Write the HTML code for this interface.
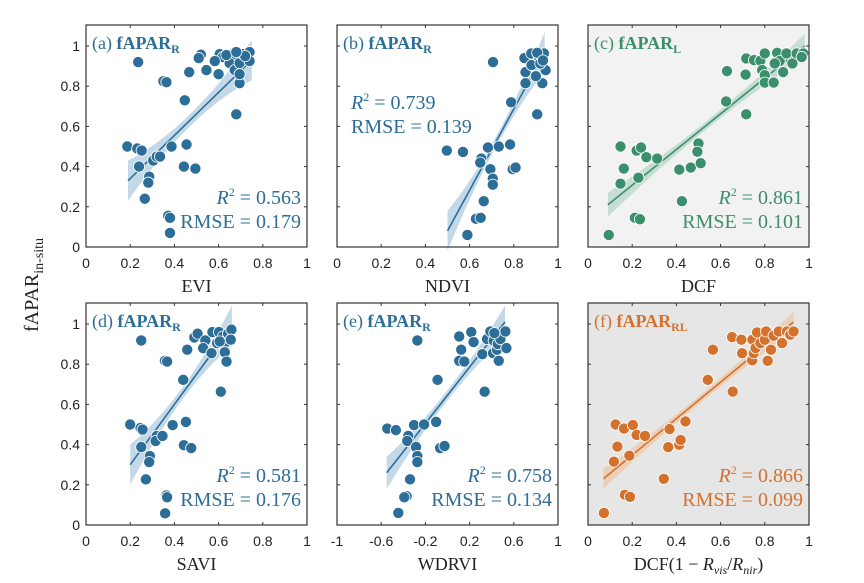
<!DOCTYPE html>
<html><head><meta charset="utf-8"><style>
body{margin:0;background:#fff;}
svg{display:block;}
.tk{font-family:"Liberation Sans",sans-serif;font-size:14px;fill:#222;}
.sf{font-family:"Liberation Serif","DejaVu Serif",serif;}
</style></head><body>
<svg id="chart" width="864" height="583" viewBox="0 0 864 583" xmlns="http://www.w3.org/2000/svg">
<text class="sf" x="0" y="0" font-size="20" fill="#222" transform="translate(38,285) rotate(-90)" text-anchor="middle">fAPAR<tspan font-size="14" dy="5">in-situ</tspan></text>
</svg>
<script>
const yA=[.92,.957,.94,.825,.82,.87,.88,.73,.66,.5,.49,.48,.5,.51,.4,.43,.45,.45,.4,.39,.35,.32,.24,.155,.145,.07,.96,.945,.925,.86,.96,.945,.915,.88,.915,.96,.97,.925,.815,.86,.95,.955,.97];
const xA=[.236,.52,.51,.35,.364,.467,.545,.447,.68,.187,.232,.252,.387,.455,.24,.304,.32,.335,.443,.495,.286,.282,.266,.372,.38,.38,.605,.62,.583,.6,.665,.68,.65,.673,.695,.71,.74,.74,.695,.695,.72,.635,.68];
const xB=[.706,.497,.57,.653,.648,.683,.732,.783,.694,.795,.808,.705,.705,.664,.629,.65,.59,.788,.906,.853,.853,.929,.9,.848,.879,.914,.936,.944,.88,.92,.906,.932];
const yB=[.92,.48,.473,.44,.42,.495,.5,.51,.387,.387,.395,.34,.31,.228,.14,.145,.06,.72,.66,.87,.815,.815,.85,.94,.963,.945,.963,.88,.905,.913,.966,.928];
const xC=[.094,.212,.235,.425,.147,.22,.24,.162,.147,.228,.264,.313,.413,.465,.5,.495,.51,.625,.716,.629,.716,.751,.713,.78,.8,.788,.8,.8,.84,.856,.867,.845,.883,.898,.925,.944,.974,.967];
const yC=[.06,.145,.138,.228,.5,.48,.495,.39,.315,.345,.447,.44,.385,.395,.515,.474,.417,.724,.66,.875,.938,.93,.858,.927,.963,.88,.855,.818,.818,.966,.925,.913,.87,.963,.913,.963,.963,.945];
const xD=[.25,.2,.247,.256,.25,.392,.452,.32,.315,.346,.289,.286,.271,.364,.367,.358,.443,.476,.44,.357,.367,.458,.61,.49,.505,.54,.53,.568,.572,.602,.62,.593,.628,.628,.636,.643,.658,.655,.605];
const yD=[.918,.5,.483,.475,.388,.497,.513,.443,.418,.443,.343,.313,.227,.147,.138,.058,.397,.383,.722,.817,.813,.872,.663,.933,.952,.918,.88,.855,.96,.96,.938,.905,.905,.86,.813,.952,.972,.922,.913];
const xE=[-.545,-.467,-.303,-.212,-.103,-.355,-.364,-.285,-.273,-.273,-.339,-.37,-.391,-.445,-.067,-.027,-.09,-.273,.106,.124,.106,.152,.215,.236,.315,.336,.358,.388,.418,.412,.448,.464,.455,.479,.524,.533,.424];
const yE=[.48,.472,.497,.5,.513,.443,.418,.388,.343,.313,.227,.143,.138,.06,.383,.393,.722,.918,.938,.872,.817,.813,.96,.91,.85,.663,.925,.963,.917,.855,.872,.817,.9,.925,.963,.88,.955];
const xF=[.072,.167,.19,.343,.125,.163,.203,.22,.258,.133,.117,.187,.369,.441,.363,.413,.419,.542,.565,.655,.652,.694,.697,.744,.743,.75,.758,.765,.78,.8,.806,.813,.828,.84,.863,.878,.9,.915,.93];
const yF=[.06,.15,.14,.23,.5,.48,.497,.448,.443,.39,.315,.345,.477,.515,.387,.399,.423,.722,.872,.664,.935,.922,.855,.922,.819,.855,.88,.958,.905,.922,.963,.817,.872,.942,.963,.905,.963,.947,.963];
const yTicks=[0,0.2,0.4,0.6,0.8,1];
const yTickLabels=["0","0.2","0.4","0.6","0.8","1"];
const xTicks01=[0,0.2,0.4,0.6,0.8,1];
const xTicksE=[-1,-0.6,-0.2,0.2,0.6,1];
const xLabels01=["0","0.2","0.4","0.6","0.8","1"];
const xLabelsE=["-1","-0.6","-0.2","0.2","0.6","1"];
const fitA=[.19,.33,.75,.93],fitB=[.5,.08,.94,.97],fitC=[.09,.21,.98,1.0],fitD=[.2,.3,.66,.99],fitE=[-.55,.26,.52,1.01],fitF=[.07,.23,.93,1.01];
const blue="#2c6e98",green="#3c8f6d",orange="#d4712c";
const panels=[
 {id:"a",L:86,T:25,xs:xA,ys:yA,xmin:0,xmax:1,fit:fitA,bw:[.1,.03],c:blue,band:"#9cc0d8",bg:"#fff",sub:"R",xl:"EVI",ylab:true,r2:"0.563",rm:"0.179",pos:"br",xt:xTicks01,xtl:xLabels01},
 {id:"b",L:337,T:25,xs:xB,ys:yB,xmin:0,xmax:1,fit:fitB,bw:[.1,.025],c:blue,band:"#9cc0d8",bg:"#fff",sub:"R",xl:"NDVI",ylab:false,r2:"0.739",rm:"0.139",pos:"ml",xt:xTicks01,xtl:xLabels01},
 {id:"c",L:588,T:25,xs:xC,ys:yC,xmin:0,xmax:1,fit:fitC,bw:[.06,.02],c:green,band:"#a6cfbd",bg:"#f2f2f2",sub:"L",xl:"DCF",ylab:false,r2:"0.861",rm:"0.101",pos:"br",xt:xTicks01,xtl:xLabels01},
 {id:"d",L:86,T:303,xs:xD,ys:yD,xmin:0,xmax:1,fit:fitD,bw:[.1,.03],c:blue,band:"#9cc0d8",bg:"#fff",sub:"R",xl:"SAVI",ylab:true,r2:"0.581",rm:"0.176",pos:"br",xt:xTicks01,xtl:xLabels01},
 {id:"e",L:337,T:303,xs:xE,ys:yE,xmin:-1,xmax:1,fit:fitE,bw:[.08,.025],c:blue,band:"#9cc0d8",bg:"#fff",sub:"R",xl:"WDRVI",ylab:false,r2:"0.758",rm:"0.134",pos:"br",xt:xTicksE,xtl:xLabelsE},
 {id:"f",L:588,T:303,xs:xF,ys:yF,xmin:0,xmax:1,fit:fitF,bw:[.05,.02],c:orange,band:"#f0bf97",bg:"#e6e6e6",sub:"RL",xl:"DCF",ylab:false,r2:"0.866",rm:"0.099",pos:"br",xt:xTicks01,xtl:xLabels01}
];
const W=221,H=222,NS="http://www.w3.org/2000/svg",svg=document.getElementById("chart");
function mk(t,a,p){const e=document.createElementNS(NS,t);for(const k in a)e.setAttribute(k,a[k]);(p||svg).appendChild(e);return e;}
panels.forEach(p=>{
 const g=mk("g",{});
 
 
 const B=p.T+H;
 const sx=v=>p.L+(v-p.xmin)/(p.xmax-p.xmin)*W;
 const sy=v=>B-v*201;
 const bg=mk("rect",{x:p.L,y:p.T,width:W,height:H,fill:p.bg},g);
 
 
 const [x0,y0,x1,y1]=p.fit,xm=(x0+x1)/2,hr=(x1-x0)/2;
 const hw=x=>p.bw[1]+(p.bw[0]-p.bw[1])*Math.pow((x-xm)/hr,2);
 const fy=x=>y0+(y1-y0)*(x-x0)/(x1-x0);
 let up=[],lo=[];
 for(let i=0;i<=30;i++){const x=x0+(x1-x0)*i/30;up.push(sx(x).toFixed(1)+","+sy(fy(x)+hw(x)).toFixed(1));lo.unshift(sx(x).toFixed(1)+","+sy(fy(x)-hw(x)).toFixed(1));}
 const band=mk("polygon",{points:up.concat(lo).join(" "),fill:p.band,opacity:.6},g);
 
 
 const ln=mk("line",{x1:sx(x0),y1:sy(y0),x2:sx(x1),y2:sy(y1),stroke:p.c,"stroke-width":1.6},g);
 
 
 p.xs.forEach((x,i)=>{
  const c=mk("circle",{cx:sx(x),cy:sy(p.ys[i]),r:5.6,fill:p.c,stroke:"#fff","stroke-width":0.8},g);
  
  
 });
 const fr=mk("rect",{x:p.L,y:p.T,width:W,height:H,fill:"none",stroke:"#333","stroke-width":1.2},g);
 
 
 yTicks.forEach((v,i)=>{
  mk("line",{x1:p.L,x2:p.L+3,y1:sy(v),y2:sy(v),stroke:"#333"},g);
  mk("line",{x1:p.L+W,x2:p.L+W-3,y1:sy(v),y2:sy(v),stroke:"#333"},g);
  if(p.ylab){const t=mk("text",{x:p.L-6,y:sy(v)+5,"text-anchor":"end",class:"tk"},g);t.textContent=yTickLabels[i];
   
   }
 });
 p.xt.forEach((v,i)=>{
  mk("line",{x1:sx(v),x2:sx(v),y1:B,y2:B-3,stroke:"#333"},g);
  mk("line",{x1:sx(v),x2:sx(v),y1:p.T,y2:p.T+3,stroke:"#333"},g);
  const t=mk("text",{x:sx(v),y:B+21,"text-anchor":"middle",class:"tk"},g);t.textContent=p.xtl[i];
  
  
 });
 const xl=mk("text",{x:p.L+W/2,y:B+45,"text-anchor":"middle",class:"sf","font-size":18,fill:"#222"},g);
 if(p.id==="f"){xl.innerHTML='DCF(1 − <tspan font-style="italic">R</tspan><tspan font-size="12" dy="4" font-style="italic">vis</tspan><tspan dy="-4">/</tspan><tspan font-style="italic">R</tspan><tspan font-size="12" dy="4" font-style="italic">nir</tspan><tspan dy="-4">)</tspan>';}
 else xl.textContent=p.xl;
 
 
 const tt=mk("text",{x:p.L+6,y:p.T+24,class:"sf","font-size":18,fill:p.c},g);
 tt.innerHTML='('+p.id+') <tspan font-weight="bold">fAPAR</tspan><tspan font-weight="bold" font-size="12" dy="4">'+p.sub+'</tspan>';
 
 
 let ax,ay,anc;
 if(p.pos==="br"){ax=p.L+W-6;ay=B-43;anc="end";}else{ax=p.L+14;ay=p.T+84;anc="start";}
 const r=mk("text",{x:ax,y:ay,"text-anchor":anc,class:"sf","font-size":20,fill:p.c},g);
 r.innerHTML='<tspan font-style="italic">R</tspan><tspan font-size="12" dy="-8">2</tspan><tspan dy="8"> = '+p.r2+'</tspan>';
 
 
 const m=mk("text",{x:ax,y:ay+24,"text-anchor":anc,class:"sf","font-size":20,fill:p.c},g);
 m.textContent='RMSE = '+p.rm;
 
 
});
</script>
</body></html>
